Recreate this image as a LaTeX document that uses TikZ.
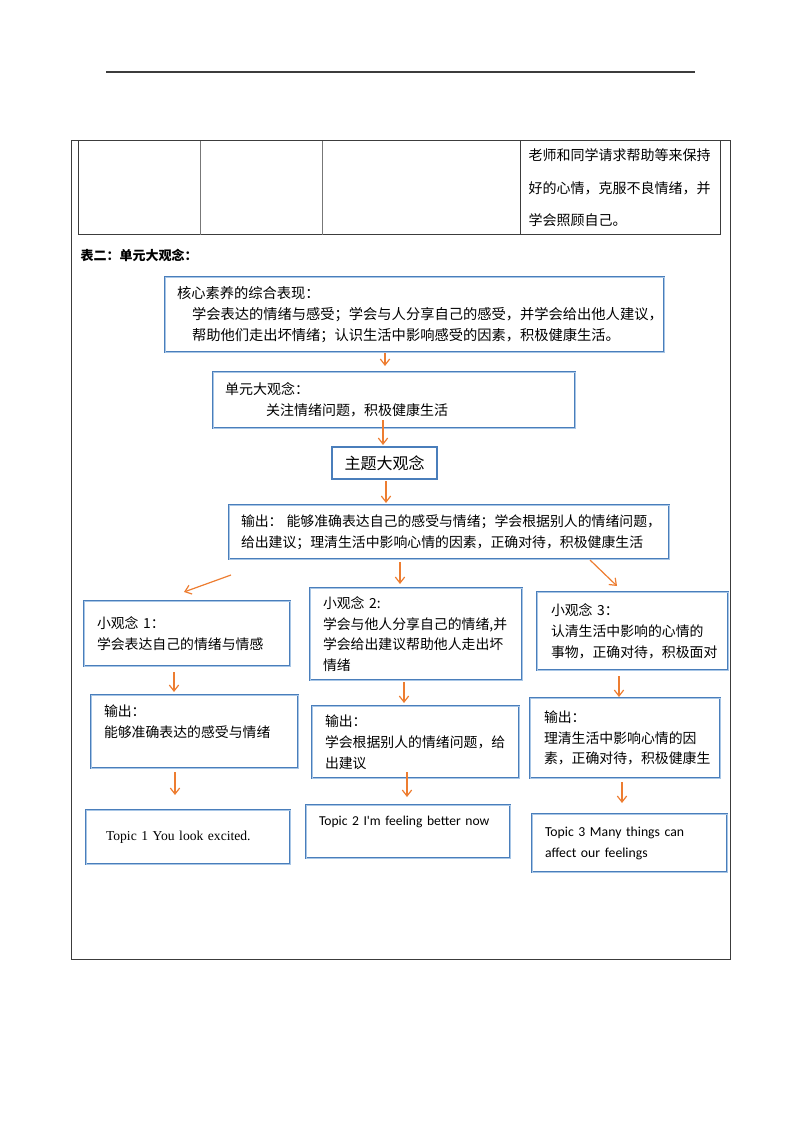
\documentclass[tikz,border=0pt]{standalone}
\usepackage{fontspec}
\setmainfont{Noto Sans CJK SC}
\newfontfamily\timesfont{Liberation Serif}
\newfontfamily\calibrifont{Carlito}
\usetikzlibrary{arrows.meta,calc}

\definecolor{boxblue}{RGB}{74,126,187}
\definecolor{boxlight}{RGB}{168,198,230}
\definecolor{arrorange}{RGB}{237,125,49}
\definecolor{rulegray}{RGB}{60,60,60}

\tikzset{every picture/.style={line width=0.75pt}}
\tikzset{
  box/.style n args={3}{draw=boxblue, double=boxlight, double distance=0.7pt, line width=0.7pt,
    inner sep=0pt, outer sep=0pt, align=left,
    minimum width=#1pt, minimum height=#2pt, text width=#3pt},
  themebox/.style={draw=boxblue, line width=1.9pt, inner sep=0pt, outer sep=0pt,
    minimum width=78.75pt, minimum height=24pt, font=\fontsize{12}{14}\selectfont},
  arr/.style={draw=arrorange, line width=0.9pt, -{Straight Barb[length=4.5pt,width=7pt]}},
  fs/.style={font=\fontsize{#1}{15.6}\selectfont}
}

\begin{document}
\begin{tikzpicture}[x=0.75pt,y=0.75pt,yscale=-1,xscale=1]
\useasboundingbox (0,0) rectangle (794,1123);

%Shape: header rule
\draw [rulegray, line width=1.1pt] (106,72) -- (695,72) ;
%Shape: outer frame
\draw [rulegray] (71,141) rectangle (730,959) ;
%Shape: table row
\draw [rulegray] (78,141) -- (78,235) -- (720,235) -- (720,141) ;
\draw [rulegray!70] (200,141) -- (200,235) ;
\draw [rulegray!70] (322,141) -- (322,235) ;
\draw [rulegray] (520,141) -- (520,235) ;

% Text Node
\node (cellnote) [anchor=west, inner sep=0.75pt, align=left, font=\fontsize{10.5}{24.4}\selectfont] at (527,188)
  {老师和同学请求帮助等来保持\\好的心情，克服不良情绪，并\\学会照顾自己。};
% Text Node
\node (tabletitle) [anchor=west, inner sep=0.75pt, font=\fontsize{9.75}{12}\selectfont\bfseries] at (79,255) {表二：单元大观念：};

% Boxes
\node (core) [box={374.25}{56.25}{356.25}, fs=10.7] at (414.5,314.5)
  {核心素养的综合表现：\\
   \hspace*{11.25pt}学会表达的情绪与感受；学会与人分享自己的感受，并学会给出他人建议，\\
   \hspace*{11.25pt}帮助他们走出坏情绪；认识生活中影响感受的因素，积极健康生活。};
\node (unit) [box={271.5}{42}{253.5}, fs=10.5] at (394,400)
  {单元大观念：\\ \hspace*{30.75pt}关注情绪问题，积极健康生活};
\node (theme) [themebox] at (384.5,463) {主题大观念};
\node (outall) [box={330}{40.5}{312}, fs=10.4] at (449,532)
  {输出：\hspace{3pt}能够准确表达自己的感受与情绪；学会根据别人的情绪问题，\\给出建议；理清生活中影响心情的因素，正确对待，积极健康生活};

\node (small1) [box={154.5}{48.75}{135}, fs=10.4] at (187,633.5)
  {小观念 1：\\学会表达自己的情绪与情感};
\node (small2) [box={159}{69}{139.5}, fs=10.4] at (416,634)
  {小观念 2:\\学会与他人分享自己的情绪,并\\学会给出建议帮助他人走出坏\\情绪};
\node (small3) [box={143.25}{58.5}{122.25}, fs=10.4] at (632.5,631)
  {小观念 3：\\认清生活中影响的心情的\\事物，正确对待，积极面对};

\node (out1) [box={155.25}{54.75}{135.75}, fs=10.4] at (194.5,731.5)
  {输出：\\能够准确表达的感受与情绪\\\mbox{}};
\node (out2) [box={155.25}{54}{135.75}, fs=10.4] at (415.5,742)
  {输出：\\学会根据别人的情绪问题，给\\出建议};
\node (out3) [box={142.5}{60}{121.5}, fs=10.4] at (625,738)
  {输出：\\理清生活中影响心情的因\\素，正确对待，积极健康生};

\node (topic1) [box={153}{40.5}{123}, font=\timesfont\fontsize{10.2}{15.6}\selectfont] at (188,837)
  {Topic 1 You look excited.};
\node (topic2) [box={153}{39.75}{133.5}, font=\calibrifont\fontsize{10.2}{15.75}\selectfont] at (408,831.5)
  {Topic 2 I'm feeling better now\\\mbox{}};
\node (topic3) [box={146.25}{43.5}{126.75}, font=\calibrifont\fontsize{10.3}{15.75}\selectfont] at (629.5,843)
  {Topic 3 Many things can\\affect our feelings};

% Arrow columns
\coordinate (xa) at (385,0);
\coordinate (xb) at (383,0);
\coordinate (xc) at (386,0);
\coordinate (xd) at (400,0);
\coordinate (xe) at (174,0);
\coordinate (xf) at (404,0);
\coordinate (xg) at (619,0);
\coordinate (xh) at (175,0);
\coordinate (xi) at (407,0);
\coordinate (xj) at (622,0);

% Arrows
\draw [arr, shorten <=0.75pt, shorten >=4.5pt] (core.south -| xa) -- (unit.north -| xa);
\draw [arr, shorten <=-6pt, shorten >=1.5pt] (unit.south -| xb) -- (theme.north -| xb);
\draw [arr, shorten <=1.5pt, shorten >=1.5pt] (theme.south -| xc) -- (outall.north -| xc);
\draw [arr] ($(outall.south west)+(2,16)$) -- ($(small1.north)+(-3,-9)$);
\draw [arr, shorten <=2.25pt, shorten >=3pt] (outall.south -| xd) -- (small2.north -| xd);
\draw [arr] ($(outall.south east)+(-79,1)$) -- ($(small3.north)+(-15.5,-6)$);
\draw [arr, shorten <=4.5pt, shorten >=2.25pt] (small1.south -| xe) -- (out1.north -| xe);
\draw [arr, shorten <=1.5pt, shorten >=2.25pt] (small2.south -| xf) -- (out2.north -| xf);
\draw [arr, shorten <=4.5pt, shorten >=0.75pt] (small3.south -| xg) -- (out3.north -| xg);
\draw [arr, shorten <=3pt, shorten >=11.25pt] (out1.south -| xh) -- (topic1.north -| xh);
\draw [arr, shorten <=-4.5pt, shorten >=6pt] (out2.south -| xi) -- (topic2.north -| xi);
\draw [arr, shorten <=3pt, shorten >=8.25pt] (out3.south -| xj) -- (topic3.north -| xj);

\end{tikzpicture}
\end{document}
